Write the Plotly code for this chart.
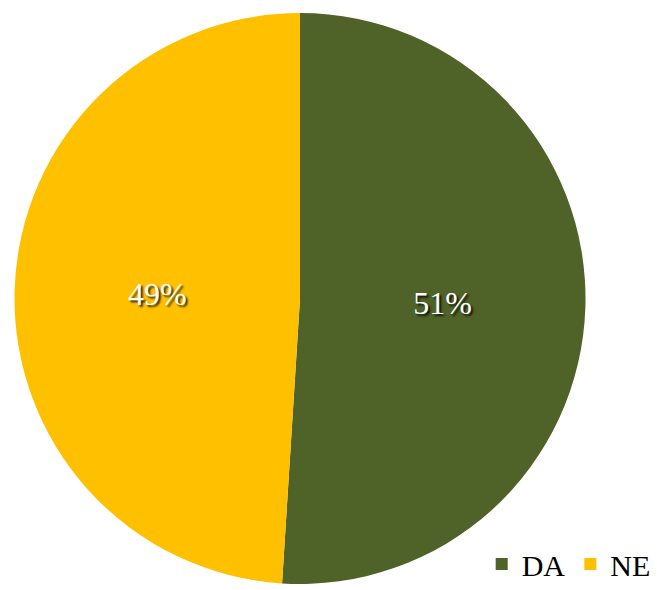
import plotly.graph_objects as go

labels = ["DA", "NE"]
values = [51, 49]
colors = ["#4F6228", "#FFC000"]

SERIF = "Liberation Serif, Times New Roman, Times, serif"
W, H = 657, 590
fig = go.Figure(go.Pie(
    labels=labels,
    values=values,
    marker=dict(colors=colors, line=dict(width=0)),
    sort=False,
    direction="clockwise",
    rotation=0,
    textinfo="percent",
    texttemplate="%{percent:.0%}",
    textposition="inside",
    insidetextorientation="horizontal",
    textfont=dict(family=SERIF, size=32, color="white",
                  shadow="2px 2px 2px rgba(0,0,0,0.8)"),
    domain=dict(x=[14 / W, 586 / W], y=[1 - 584 / H, 1 - 13 / H]),
    hoverinfo="label+percent",
))
fig.update_layout(
    width=W, height=H,
    margin=dict(l=0, r=0, t=0, b=0, autoexpand=False),
    paper_bgcolor="white",
    plot_bgcolor="white",
    showlegend=True,
    legend=dict(orientation="h", x=0.998, xanchor="right", y=0, yanchor="bottom",
                font=dict(family=SERIF, size=30, color="black"),
                itemwidth=30, bgcolor="rgba(0,0,0,0)"),
)
fig.write_html("out.html", config={"displayModeBar": False},
               post_script="document.body.style.margin='0';document.body.style.padding='0';")
